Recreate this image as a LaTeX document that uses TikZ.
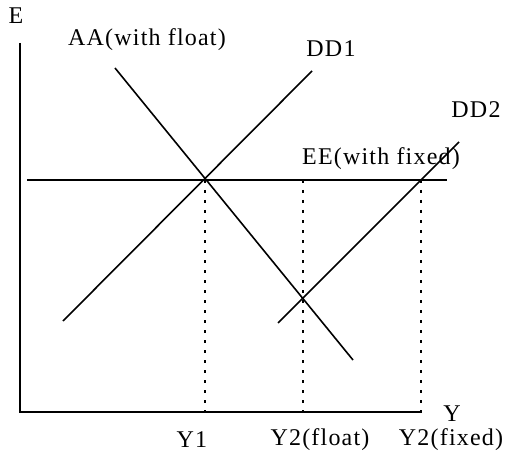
\documentclass[tikz,border=0pt]{standalone}
\usepackage{fontspec}
\setmainfont[LetterSpace=5]{Liberation Serif}
\begin{document}
\begin{tikzpicture}[x=1bp,y=-1bp,
  curve/.style={line width=1.6bp},
  axisline/.style={line width=1.8bp},
  guide/.style={line width=1.8bp, dash pattern=on 3bp off 7bp},
  lbl/.style={inner sep=0pt, font=\fontsize{24bp}{26bp}\selectfont}]
\useasboundingbox (0,0) rectangle (505,455);
% axes
\coordinate (O) at (20,412);
\coordinate (Etop) at (20,43);
\coordinate (Yend) at (422,412);
\draw[axisline] (Etop) -- (O) -- (Yend);
% EE
\coordinate (EEl) at (27,180);
\coordinate (EEr) at (447,180);
\draw[curve] (EEl) -- (EEr);
% AA
\coordinate (AAa) at (115,68);
\coordinate (AAb) at (353,360);
\draw[curve] (AAa) -- (AAb);
% DD1
\coordinate (D1a) at (63,321);
\coordinate (D1b) at (312,71);
\draw[curve] (D1a) -- (D1b);
% DD2
\coordinate (D2a) at (278,323);
\coordinate (D2b) at (459,142);
\draw[curve] (D2a) -- (D2b);
% guides
\coordinate (g1t) at (205,180);
\coordinate (g1b) at (205,411);
\coordinate (g2t) at (303,180);
\coordinate (g2b) at (303,411);
\coordinate (g3t) at (421,180);
\coordinate (g3b) at (421,411);
\draw[guide] (g1t) -- (g1b);
\draw[guide] (g2t) -- (g2b);
\draw[guide] (g3t) -- (g3b);
% labels
\node[lbl] (lE) at (16,16) {E};
\node[lbl] (lAA) at (147,40) {AA(with float)};
\node[lbl] (lDD1) at (331,49) {DD1};
\node[lbl] (lDD2) at (476,110) {DD2};
\node[lbl] (lEE) at (381,159) {EE(with fixed)};
\node[lbl] (lY) at (452,414) {Y};
\node[lbl] (lY1) at (192,440) {Y1};
\node[lbl] (lY2f) at (320,440) {Y2(float)};
\node[lbl] (lY2x) at (451,440) {Y2(fixed)};
\end{tikzpicture}
\end{document}
